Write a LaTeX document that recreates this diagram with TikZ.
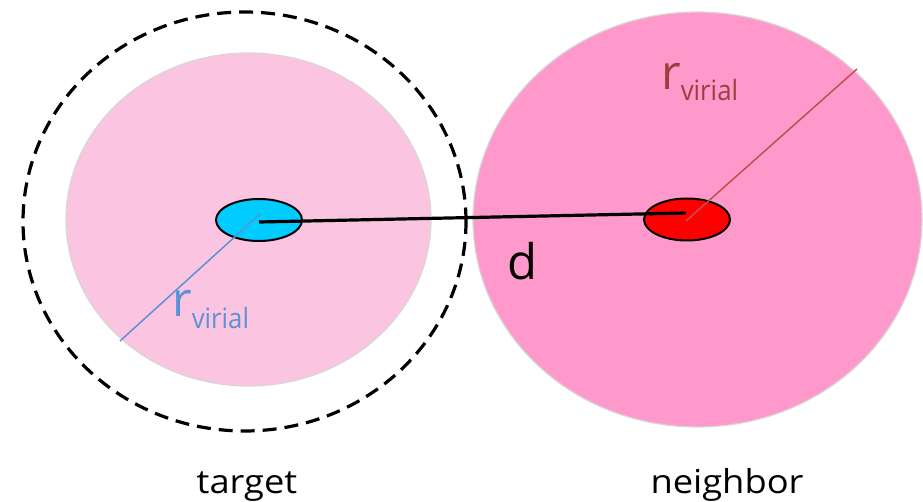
\documentclass[tikz,border=0pt]{standalone}
\usepackage{fontspec}
\setmainfont{Open Sans}
\newfontfamily\widefont{Open Sans}[FakeStretch=1.1]
\newfontfamily\narrowfont{Open Sans}[FakeStretch=0.92]
\usetikzlibrary{shapes.geometric}
\definecolor{lightpink}{RGB}{251,196,224}
\definecolor{hotpink}{RGB}{255,153,204}
\definecolor{edgegrey}{RGB}{215,215,215}
\definecolor{cyanfill}{RGB}{0,204,255}
\definecolor{bluetxt}{RGB}{91,146,214}
\definecolor{redline}{RGB}{192,80,77}
\definecolor{redtxt}{RGB}{160,60,60}
\tikzset{
  halo/.style={ellipse, draw=edgegrey, line width=1.2pt, inner sep=0pt},
  core/.style={ellipse, draw=black, line width=2pt, inner sep=0pt, minimum width=86pt, minimum height=42pt},
  lbl/.style={inner sep=0pt, font=\widefont\fontsize{33}{33}\selectfont, anchor=base}
}
\newcommand{\rvir}{{\fontsize{48}{48}\selectfont r}\raisebox{-11pt}{\narrowfont\fontsize{28}{28}\selectfont virial}}
\begin{document}
\begin{tikzpicture}[x=1pt,y=-1pt]
\useasboundingbox (0,0) rectangle (923,502);
% big halos
\node[halo, fill=lightpink, minimum width=365pt, minimum height=333pt] (th) at (248.5,219.5) {};
\node[halo, fill=hotpink, minimum width=449pt, minimum height=415pt] (nh) at (697.5,219.5) {};
% dashed search circle
\node[ellipse, draw=black, line width=3.2pt, dash pattern=on 14pt off 8pt, minimum width=443pt, minimum height=419pt, inner sep=0pt] (sr) at (244.5,221.5) {};
% cores
\node[core, fill=cyanfill] (tc) at (259,220) {};
\node[core, fill=red] (nc) at (687,219.5) {};
% radius lines
\coordinate (tcc) at (260,214);
\coordinate (tr) at (120,341);
\coordinate (ncc) at (686,221);
\coordinate (nr) at (857,69);
\draw[bluetxt, line width=1.5pt] (tcc) -- (tr);
\draw[redline, line width=1.5pt] (ncc) -- (nr);
% distance line
\coordinate (ds) at (259,222);
\coordinate (de) at (686,213);
\draw[black, line width=3.2pt] (ds) -- (de);
% labels
\node[inner sep=0pt, anchor=base west, text=bluetxt] (rt) at (172,317) {\rvir};
\node[inner sep=0pt, anchor=base west, text=redtxt] (rn) at (661,90) {\rvir};
\node[inner sep=0pt, anchor=base, font=\fontsize{49}{49}\selectfont] (d) at (523,280) {d};
\node[lbl] (target) at (247,493) {target};
\node[lbl] (neighbor) at (727,493) {neighbor};
\end{tikzpicture}
\end{document}
